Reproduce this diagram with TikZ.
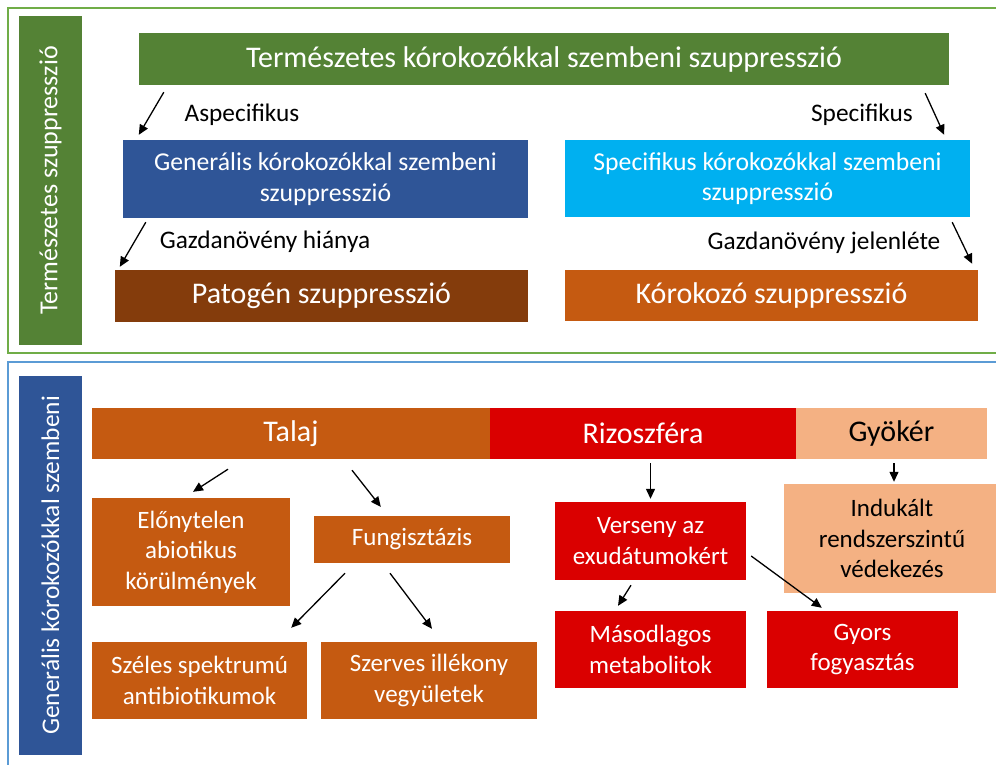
\documentclass[tikz,border=0pt]{standalone}
\usepackage{fontspec}
\setmainfont{Carlito}
\usetikzlibrary{arrows.meta,calc}
\definecolor{zold}{HTML}{548235}
\definecolor{kek}{HTML}{2F5597}
\definecolor{egkek}{HTML}{00B0F0}
\definecolor{barna}{HTML}{843C0C}
\definecolor{narancs}{HTML}{C55A11}
\definecolor{piros}{HTML}{DA0000}
\definecolor{barack}{HTML}{F4B183}
\definecolor{keretzold}{HTML}{70AD47}
\definecolor{keretkek}{HTML}{5B9BD5}
\tikzset{
  doboz/.style={inner sep=0pt, align=center, text=white, font=\fontsize{25}{30.5}\selectfont},
  nagy/.style={font=\fontsize{30}{34}\selectfont},
  felirat/.style={inner sep=0pt, font=\fontsize{25.3}{30}\selectfont},
  nyil/.style={line width=1.3pt, -{Triangle[length=10pt,width=9pt]}}
}
\begin{document}
\begin{tikzpicture}[x=1pt, y=-1pt]
    \useasboundingbox (0,0) rectangle (996,764);
    % keretek
    \draw[keretzold, line width=1.5pt] (8,8) rectangle (1010,353);
    \draw[keretkek, line width=1.5pt] (8,362) rectangle (1010,780);

    % felső rész
    \node[doboz, fill=zold, minimum width=63, minimum height=329, font=\fontsize{26}{30}\selectfont] (tbar) at (50.5,180.5)
      {\rotatebox{90}{Természetes szuppresszió}};
    \node[doboz, nagy, fill=zold, minimum width=810, minimum height=52] (top) at (544,59)
      {Természetes kórokozókkal szembeni szuppresszió};
    \node[doboz, fill=kek, minimum width=405, minimum height=78, font=\fontsize{25.7}{30.5}\selectfont] (gen) at (325.5,179)
      {Generális kórokozókkal szembeni\\szuppresszió};
    \node[doboz, fill=egkek, minimum width=405, minimum height=77, font=\fontsize{25.7}{30.5}\selectfont] (spec) at (767.5,178.5)
      {Specifikus kórokozókkal szembeni\\szuppresszió};
    \node[doboz, nagy, fill=barna, minimum width=413, minimum height=52] (pat) at (321.5,296)
      {Patogén szuppresszió};
    \node[doboz, nagy, fill=narancs, minimum width=413, minimum height=51] (kor) at (771.5,295.5)
      {Kórokozó szuppresszió};

    \node[felirat] (asp) at (242,115) {Aspecifikus};
    \node[felirat] (spl) at (862,115) {Specifikus};
    \node[felirat] (hia) at (265,242) {Gazdanövény hiánya};
    \node[felirat] (jel) at (824,243) {Gazdanövény jelenléte};

    \draw[nyil] ($(top.south west)+(25,7)$) -- ($(gen.north west)+(16,-5)$);
    \draw[nyil] ($(top.south east)+(-24,8)$) -- ($(spec.north east)+(-26,-5)$);
    \draw[nyil] ($(gen.south west)+(23,4)$) -- ($(pat.north west)+(5,-3)$);
    \draw[nyil] ($(spec.south east)+(-18,5)$) -- ($(kor.north east)+(-6,-6)$);

    % alsó rész
    \node[doboz, fill=kek, minimum width=63, minimum height=379, font=\fontsize{25.4}{30}\selectfont] (gbar) at (50.5,565.5)
      {\rotatebox{90}{Generális kórokozókkal szembeni}};
    \node[doboz, nagy, fill=narancs, minimum width=398, minimum height=51] (talaj) at (291,433.5) {Talaj};
    \node[doboz, nagy, fill=piros, minimum width=306, minimum height=51] (rizo) at (643,433.5) {Rizoszféra};
    \node[doboz, nagy, fill=barack, text=black, minimum width=191, minimum height=51] (gyok) at (891.5,433.5) {Gyökér};

    \node[doboz, fill=narancs, minimum width=198, minimum height=108] (elony) at (191,552)
      {Előnytelen\\abiotikus\\körülmények};
    \node[doboz, fill=narancs, minimum width=196, minimum height=47] (fung) at (412,539.5) {Fungisztázis};
    \node[doboz, fill=narancs, minimum width=215, minimum height=77] (szeles) at (199.5,680.5)
      {Széles spektrumú\\antibiotikumok};
    \node[doboz, fill=narancs, minimum width=216, minimum height=77] (szerv) at (429,680.5)
      {Szerves illékony\\vegyületek};
    \node[doboz, fill=piros, minimum width=191, minimum height=78] (vers) at (650.5,541)
      {Verseny az\\exudátumokért};
    \node[doboz, fill=piros, minimum width=191, minimum height=77] (masod) at (650.5,649.5)
      {Másodlagos\\metabolitok};
    \node[doboz, fill=piros, minimum width=191, minimum height=77] (gyors) at (862.5,649.5)
      {Gyors\\fogyasztás};
    \node[doboz, fill=barack, text=black, minimum width=216, minimum height=109] (indu) at (892,538.5)
      {Indukált\\rendszerszintű\\védekezés};

    \draw[nyil] ($(talaj.south)+(-63,10)$) -- ($(elony.north)+(2,-6)$);
    \draw[nyil] ($(talaj.south)+(61,11)$) -- ($(fung.north west)+(67,-9)$);
    \draw[nyil] ($(fung.south)+(-67,10)$) -- ($(szeles.north east)+(-16,-14)$);
    \draw[nyil] ($(fung.south)+(-22,10)$) -- ($(szerv.north)+(3,-13)$);
    \draw[nyil] ($(rizo.south)+(7.5,4)$) -- ($(vers.north)+(0,-3)$);
    \draw[nyil] ($(vers.south)+(-19.5,5)$) -- ($(masod.north)+(-32.5,-5)$);
    \draw[nyil] ($(vers.east)+(5,15)$) -- ($(gyors.north west)+(55,-3)$);
    \draw[nyil] ($(gyok.south)+(2.5,4)$) -- ($(indu.north)+(2,-2)$);
  \end{tikzpicture}
\end{document}
